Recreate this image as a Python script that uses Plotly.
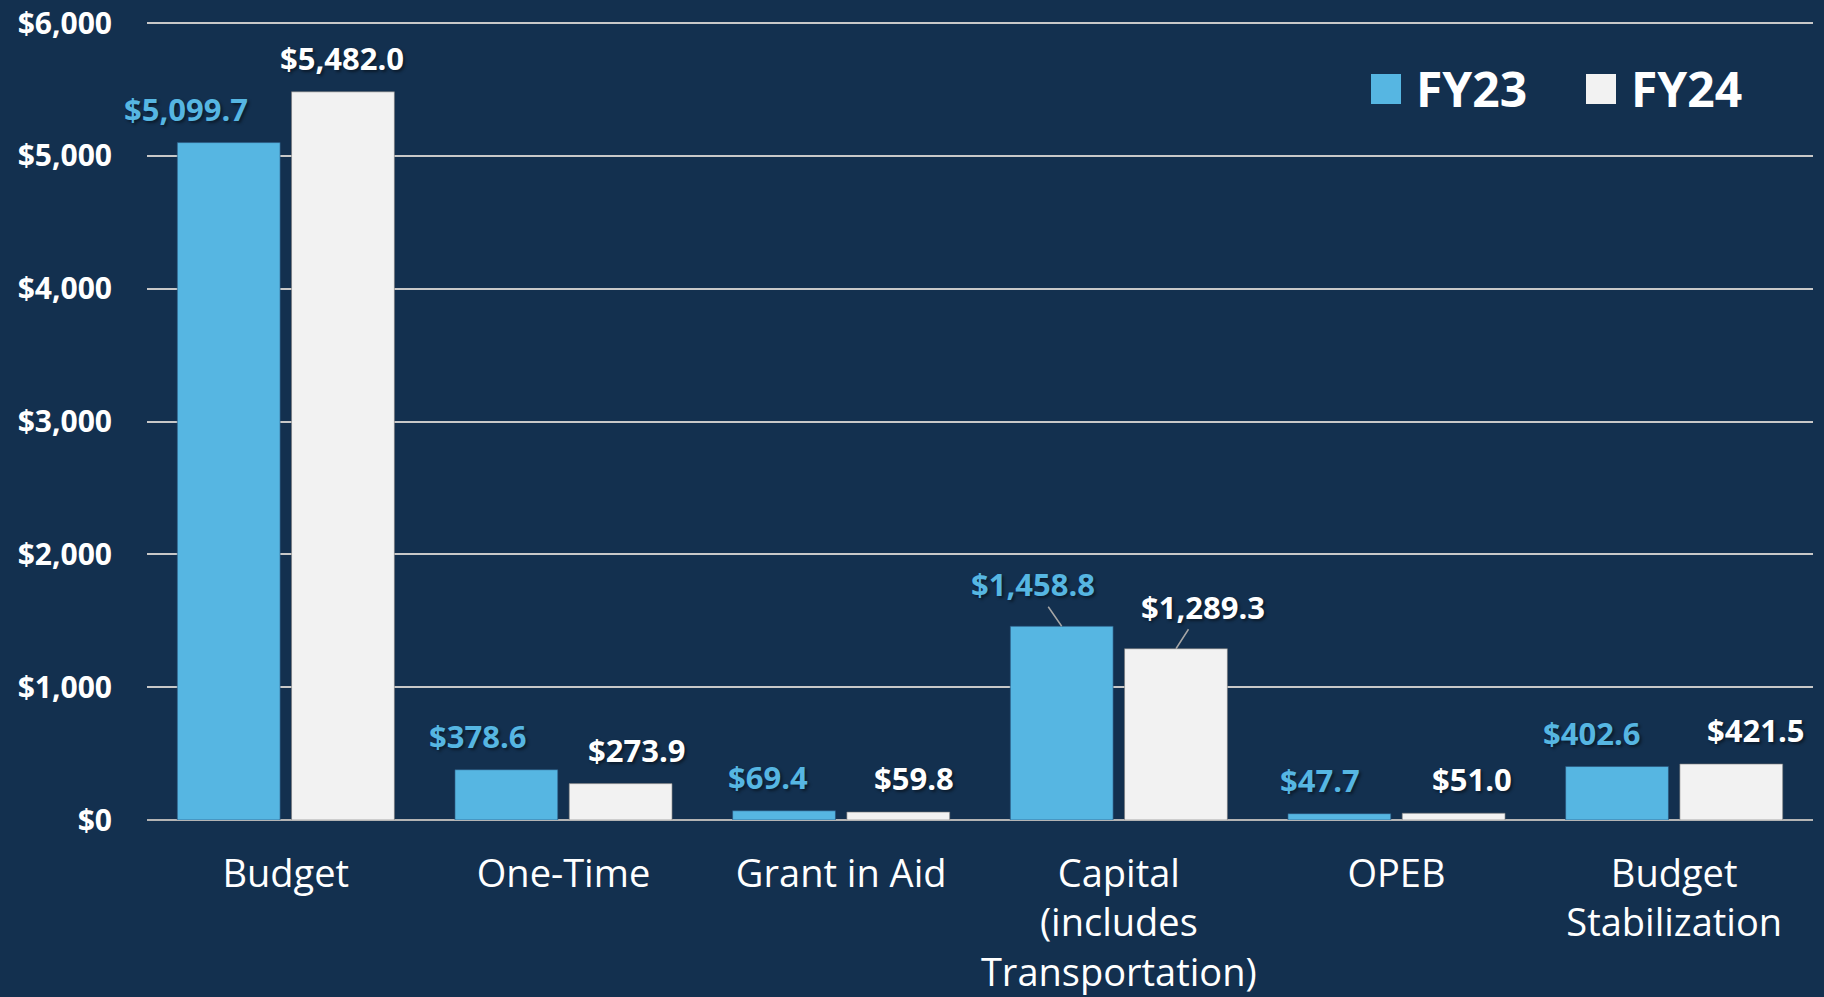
import plotly.graph_objects as go

categories = ["Budget", "One-Time", "Grant in Aid", "Capital<br>(includes<br>Transportation)", "OPEB", "Budget<br>Stabilization"]
fy23 = [5099.7, 378.6, 69.4, 1458.8, 47.7, 402.6]
fy24 = [5482.0, 273.9, 59.8, 1289.3, 51.0, 421.5]
series_names = ["FY23", "FY24"]
y_ticks = [0, 1000, 2000, 3000, 4000, 5000, 6000]
y_ticktext = ["${:,}".format(v) for v in y_ticks]

# label horizontal nudges (px) relative to bar centre, as in the reference
fy23_label_dx = [-43, -29, -16, -29, -19, -26]
fy24_label_dx = [-1, 16, 16, 27, 18, 24]
leader = [False, False, False, True, False, False]

C23 = "#56B6E2"
C24 = "#F2F2F2"
BG = "#13304F"
FONT = "Open Sans"

W, H = 1824, 997
ML, MR, MT, MB = 147, 11, 16, 177
plot_w = W - ML - MR
plot_h = H - MT - MB
top_px = 23  # pixel row of the $6,000 grid line
y_top = 6000 * plot_h / (H - MB - top_px)
bargap, bargroupgap = 0.177, 0.10
cat_w = plot_w / len(categories)
slot = (1 - bargap) * cat_w / 2
bar_off = slot / 2

fig = go.Figure()
fig.add_trace(go.Bar(x=categories, y=fy23, name=series_names[0], marker=dict(color=C23, line=dict(color="rgba(40,80,120,0.6)", width=1)), showlegend=False))
fig.add_trace(go.Bar(x=categories, y=fy24, name=series_names[1], marker=dict(color=C24, line=dict(color="rgba(120,120,120,0.6)", width=1)), showlegend=False))

shadow = "2px 2px 3px rgba(0,0,0,0.45)"
ann = []
for i, c in enumerate(categories):
    for vals, dxs, col, sgn in ((fy23, fy23_label_dx, C23, -1), (fy24, fy24_label_dx, "#FFFFFF", 1)):
        v = vals[i]
        txt = "${:,.1f}".format(v)
        base = dict(x=c, y=v, xref="x", yref="y", text=txt,
                    font=dict(family=FONT, size=31, color=col, weight="bold", shadow=shadow),
                    xshift=sgn * bar_off, yanchor="middle", xanchor="center")
        if leader[i]:
            base.update(showarrow=True, arrowhead=0, arrowwidth=1.5, arrowcolor="#A6A6A6",
                        ax=dxs[i], ay=-42, standoff=0)
        else:
            base.update(showarrow=False, xshift=sgn * bar_off + dxs[i], yshift=34)
        ann.append(base)

# legend (custom, large squares)
def px_x(p):
    return (p - ML) / plot_w

def px_y(p):
    return (H - MB - p) / plot_h

legend_items = [(series_names[0], C23, 1371), (series_names[1], C24, 1586)]
shapes = []
for name, col, x0 in legend_items:
    shapes.append(dict(type="rect", xref="paper", yref="paper", x0=px_x(x0), x1=px_x(x0 + 30),
                       y0=px_y(104), y1=px_y(74), fillcolor=col, line=dict(width=0)))
    ann.append(dict(x=px_x(x0 + 43), y=px_y(88), xref="paper", yref="paper", text=name, showarrow=False,
                    xanchor="left", yanchor="middle",
                    font=dict(family=FONT, size=48, color="#FFFFFF", weight="bold")))

fig.update_layout(
    width=W, height=H,
    margin=dict(l=ML, r=MR, t=MT, b=MB, autoexpand=False),
    paper_bgcolor=BG, plot_bgcolor=BG,
    barmode="group", bargap=bargap, bargroupgap=bargroupgap,
    annotations=ann, shapes=shapes,
    font=dict(family=FONT, color="#FFFFFF"),
)
fig.update_yaxes(range=[0, y_top], autorange=False, automargin=False, tickvals=y_ticks, ticktext=y_ticktext,
                 tickfont=dict(family=FONT, size=30, color="#FFFFFF", weight="bold"),
                 showgrid=True, gridcolor="#C8C8C8", gridwidth=1.5,
                 zeroline=True, zerolinecolor="#B4B4B4", zerolinewidth=2,
                 ticklabelstandoff=34, ticklabeloverflow="allow", showline=False)
fig.update_xaxes(range=[-0.5, len(categories) - 0.5], autorange=False, automargin=False,
                 tickfont=dict(family=FONT, size=38, color="#FFFFFF"), ticklabelstandoff=28,
                 showline=False, showgrid=False)

fig.write_html("out.html", config={"displayModeBar": False},
               post_script="document.body.style.margin='0';document.body.style.overflow='hidden';")
